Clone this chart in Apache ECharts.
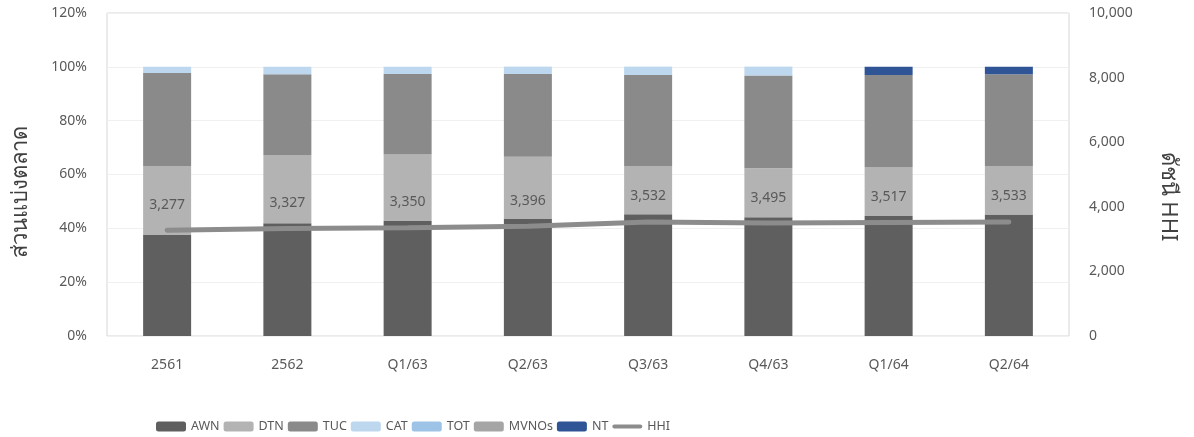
<!DOCTYPE html>
<html><head><meta charset="utf-8">
<script src="https://cdn.jsdelivr.net/npm/echarts@6/dist/echarts.min.js"></script>
<style>html,body{margin:0;padding:0;background:#fff}#c{width:1194px;height:437px}</style>
</head><body><div id="c"></div>
<script>
const categories = ['2561','2562','Q1/63','Q2/63','Q3/63','Q4/63','Q1/64','Q2/64'];
const AWN   = [37.5, 41.9, 42.7, 43.5, 45.2, 44.1, 44.6, 45.1];
const DTN   = [25.7, 25.3, 24.7, 23.1, 18.0, 18.2, 18.2, 18.1];
const TUC   = [34.5, 30.0, 29.9, 30.7, 33.8, 34.5, 34.2, 34.0];
const CAT   = [2.3, 2.8, 2.7, 2.6, 2.9, 3.1, 0, 0];
const TOT   = [0, 0, 0, 0.1, 0.1, 0.1, 0, 0];
const MVNOs = [0, 0, 0, 0, 0, 0, 0, 0];
const NT    = [0, 0, 0, 0, 0, 0, 3.0, 2.8];
const HHI   = [3277, 3327, 3350, 3396, 3532, 3495, 3517, 3533];
const leftTicks = [0, 20, 40, 60, 80, 100, 120];
const rightTicks = [0, 2000, 4000, 6000, 8000, 10000];

const font = '"Noto Sans", sans-serif';
const txt = '#595959';
const chart = echarts.init(document.getElementById('c'));
function bar(name, data, color){
  return {name, type:'bar', stack:'s', data, barWidth:48, itemStyle:{color}, yAxisIndex:0};
}
const lineIcon = 'path://M0,0 L0,0.01 Z M2,3 L28,3 A2,2 0 0 1 28,7 L2,7 A2,2 0 0 1 2,3 Z M30,10 L30,9.99 Z';
chart.setOption({
  animation:false,
  textStyle:{fontFamily:font},
  grid:{left:107, right:125, top:13, bottom:101, show:true, borderColor:'#d6d6d6', borderWidth:1},
  legend:{top:415, left:151, itemWidth:30, itemHeight:10, itemGap:4,
    textStyle:{color:txt, fontSize:12.5, fontFamily:font},
    data:['AWN','DTN','TUC','CAT','TOT','MVNOs','NT',{name:'HHI', icon:lineIcon}]},
  xAxis:{type:'category', data:categories,
    axisLine:{show:false}, axisTick:{show:false},
    axisLabel:{color:txt, fontSize:14, margin:22}},
  yAxis:[
    {type:'value', min:leftTicks[0], max:leftTicks[leftTicks.length-1], interval:20,
     name:'ส่วนแบ่งตลาด', nameLocation:'middle', nameGap:75,
     nameTextStyle:{color:'#404040', fontSize:22, fontFamily:font, padding:[0,34,0,0]},
     axisLabel:{formatter:'{value}%', color:txt, fontSize:14, margin:20},
     splitLine:{lineStyle:{color:'#f0f0f0'}}, axisLine:{show:false}, axisTick:{show:false}},
    {type:'value', min:rightTicks[0], max:rightTicks[rightTicks.length-1], interval:2000,
     name:'ดัชนี HHI', nameLocation:'middle', nameGap:88, nameRotate:-90,
     nameTextStyle:{color:'#404040', fontSize:22, fontFamily:font, padding:[0,0,0,44]},
     axisLabel:{color:txt, fontSize:14, margin:20, formatter:v=>v.toLocaleString('en-US')},
     splitLine:{show:false}, axisLine:{show:false}, axisTick:{show:false}}
  ],
  series:[
    bar('AWN', AWN, '#5f5f5f'),
    bar('DTN', DTN, '#b3b3b3'),
    bar('TUC', TUC, '#8a8a8a'),
    bar('CAT', CAT, '#bdd7ee'),
    bar('TOT', TOT, '#9dc3e6'),
    bar('MVNOs', MVNOs, '#a5a5a5'),
    bar('NT', NT, '#2f5597'),
    {name:'HHI', type:'line', yAxisIndex:1, data:HHI, symbol:'circle', symbolSize:1, showSymbol:true,
     lineStyle:{color:'#8c8c8c', width:5, cap:'round'}, itemStyle:{color:'#8c8c8c'},
     label:{show:true, position:'top', distance:18, color:txt, fontSize:14,
       formatter:p=>p.value.toLocaleString('en-US')}, z:10}
  ]
});
</script></body></html>
